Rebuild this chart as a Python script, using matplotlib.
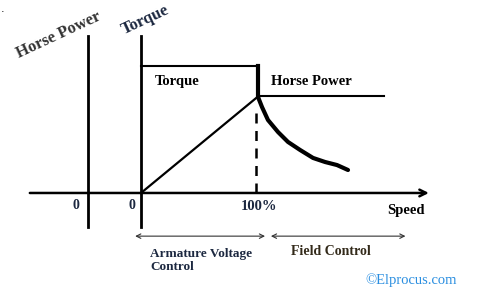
import matplotlib.pyplot as plt

# diagram units: speed in % (0 .. 100 = rated), torque / horse power level
torque_speed = [0, 100]
torque_level = [100, 100]
hp_rise_speed = [0, 100]
hp_rise_level = [0, 76]
hp_flat_speed = [100, 208]
hp_flat_level = [76, 76]
# falling torque curve in field control region
fall_speed = [100, 103.4, 108.5, 117.1, 125.6, 135.9, 147.0, 157.3, 167.5, 176.9]
fall_level = [75.6, 67.7, 57.5, 48.0, 40.2, 33.9, 27.6, 24.4, 22.0, 18.1]

hp_axis_speed = -45.3
axis_top, axis_bottom = 124, -27
speed_axis = [-95, 246]
dash_speed = 98.3
dash_top = 68
region_y = -34
armature_span = [-5, 106]
field_span = [111, 226]

serif = "Liberation Serif"

fig = plt.figure(figsize=(4.8, 3.0), dpi=100)
ax = fig.add_axes([0, 0, 1, 1])
ax.set_xlim(-120.5, 289.7)
ax.set_ylim(-84.3, 152)
ax.axis("off")

# vertical axes
ax.plot([hp_axis_speed, hp_axis_speed], [axis_bottom, axis_top], color="black", lw=2.0)
ax.plot([0, 0], [axis_bottom, axis_top], color="black", lw=2.0)
# speed axis with open arrow head
ax.annotate("", xy=(speed_axis[1], 0), xytext=(speed_axis[0], 0),
            arrowprops=dict(arrowstyle="->", color="black", lw=1.8,
                            mutation_scale=12, shrinkA=0, shrinkB=0))

# torque and horse power
ax.plot(torque_speed, torque_level, color="black", lw=1.5)
ax.plot([100, 100], [100, 76], color="black", lw=3.0)
ax.plot(hp_rise_speed, hp_rise_level, color="black", lw=1.6)
ax.plot(hp_flat_speed, hp_flat_level, color="black", lw=1.5)
ax.plot(fall_speed, fall_level, color="black", lw=3.0, solid_capstyle="round")
ax.plot([dash_speed, dash_speed], [0, dash_top], color="black", lw=1.8,
        dashes=(4, 3))

# region arrows
for span in (armature_span, field_span):
    ax.annotate("", xy=(span[1], region_y), xytext=(span[0], region_y),
                arrowprops=dict(arrowstyle="<->", color="#333333", lw=0.8,
                                mutation_scale=8, shrinkA=0, shrinkB=0))

bold = dict(family=serif, fontweight="bold")
ax.text(-70, 124.5, "Horse Power", rotation=25, fontsize=12, color="#333333",
        ha="center", va="center", **bold)
ax.text(4, 136, "Torque", rotation=25, fontsize=12, color="#1c2840",
        ha="center", va="center", **bold)
ax.text(-118, 145, ".", fontsize=8, color="black", ha="center", va="center")
ax.text(12, 88, "Torque", fontsize=10.5, color="black", va="center", **bold)
ax.text(111, 88, "Horse Power", fontsize=10.5, color="black", va="center", **bold)
ax.text(-56, -10, "0", fontsize=10, color="#1c2840", ha="center", va="center", **bold)
ax.text(-8, -10, "0", fontsize=10, color="#1c2840", ha="center", va="center", **bold)
ax.text(101, -11, "100%", fontsize=10.5, color="#1c2840", ha="center", va="center", **bold)
ax.text(226, -14, "Speed", fontsize=10.5, color="black", ha="center", va="center", **bold)
ax.text(8, -53, "Armature Voltage\nControl", fontsize=9.5, color="#1c2840",
        ha="left", va="center", linespacing=1.1, **bold)
ax.text(162, -46, "Field Control", fontsize=10, color="#332a1a",
        ha="center", va="center", **bold)
ax.text(231, -68.5, "\u00a9Elprocus.com", fontsize=10.5, color="#2a8ee0",
        ha="center", va="center", family=serif)

fig.savefig("out.png", dpi=100, facecolor="white")
